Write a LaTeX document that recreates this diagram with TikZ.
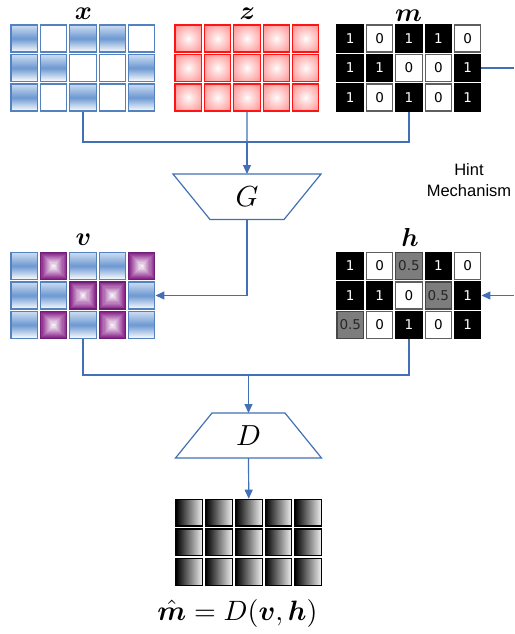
\documentclass[tikz,border=0pt]{standalone}
\usepackage{amsmath}
\usepackage{fontspec}
\usetikzlibrary{arrows.meta,calc}
\newfontfamily\dejavu{DejaVu Sans}
\newfontfamily\libsans{Liberation Sans}
\definecolor{xblue}{RGB}{84,130,192}
\definecolor{btop}{RGB}{205,221,241}
\definecolor{bmid}{RGB}{108,152,210}
\definecolor{zred}{RGB}{255,20,20}
\definecolor{zfill}{RGB}{255,95,95}
\definecolor{vpurple}{RGB}{140,38,140}
\definecolor{vpurpleb}{RGB}{110,30,118}
\definecolor{connc}{RGB}{66,112,182}
\definecolor{zerob}{RGB}{95,95,95}
\definecolor{halff}{RGB}{125,125,125}
\definecolor{halfb}{RGB}{70,70,70}
\pgfdeclareradialshading{zshade}{\pgfpoint{0bp}{0bp}}{color(0bp)=(white); color(6bp)=(white!85!zfill); color(50bp)=(zfill); color(72bp)=(zfill)}
\begin{document}
\begin{tikzpicture}[x=1pt,y=-1pt,
  cell/.style={minimum width=26.5pt, minimum height=27pt, inner sep=0pt, line width=1.1pt, font=\dejavu\fontsize{13.5}{15}\selectfont},
  xc1/.style={cell, draw=xblue, top color=btop, bottom color=white, middle color=bmid},
  xc0/.style={cell, draw=xblue, fill=white},
  zc/.style={cell, draw=zred, shading=zshade},
  vp/.style={cell, draw=vpurpleb, path picture={
      \foreach \i in {0,...,12}{
        \pgfmathtruncatemacro\pc{\i*100/12}
        \fill[white!\pc!vpurple] ($(path picture bounding box.south west)+(\i*1.1pt,\i*1.1pt)$) rectangle ($(path picture bounding box.north east)-(\i*1.1pt,\i*1.1pt)$);
      }}},
  k/.style={cell, fill=black, draw=black, text=white},
  w/.style={cell, fill=white, draw=zerob, text=black},
  g/.style={cell, fill=halff, draw=halfb, text=black!85},
  oc/.style={cell, minimum width=26.7pt, minimum height=26.7pt, draw=black, left color=black, right color=gray!10},
  title/.style={scale=2.6, anchor=base, inner sep=0pt},
  big/.style={scale=2.9, inner sep=0pt},
  conn/.style={draw=connc, line width=1.2pt},
  arr/.style={conn, -{Triangle[length=9pt,width=8pt]}},
  trap/.style={draw=connc, line width=1.2pt, line join=miter}
]
\useasboundingbox (0,0) rectangle (514,634);

% titles
\node[title] (tx) at (83.5,19.5) {$\boldsymbol{x}$};
\node[title] (tz) at (247.5,19.5) {$\boldsymbol{z}$};
\node[title] (tm) at (408.5,22) {$\boldsymbol{m}$};
\node[title] (tv) at (83.5,245) {$\boldsymbol{v}$};
\node[title] (th) at (410,246.5) {$\boldsymbol{h}$};

% x grid
\foreach \r/\list in {1/{xc1,xc0,xc1,xc1,xc0},2/{xc1,xc1,xc0,xc0,xc1},3/{xc1,xc0,xc1,xc0,xc1}}{
  \foreach \s [count=\c] in \list {
    \node[\s] (x-\r-\c) at ({24.25+29.35*(\c-1)},{38.5+29.5*(\r-1)}) {};
  }}
% z grid
\foreach \r in {1,2,3}{
  \foreach \c in {1,...,5}{
    \node[zc] (z-\r-\c) at ({188.25+29.35*(\c-1)},{38.5+29.5*(\r-1)}) {};
  }}
% m grid
\foreach \r/\list in {1/{k/1,w/0,k/1,k/1,w/0},2/{k/1,k/1,w/0,w/0,k/1},3/{k/1,w/0,k/1,w/0,k/1}}{
  \foreach \s/\t [count=\c] in \list {
    \node[\s] (m-\r-\c) at ({350.25+29.35*(\c-1)},{38.5+29.5*(\r-1)}) {\t};
  }}
% v grid
\foreach \r/\list in {1/{xc1,vp,xc1,xc1,vp},2/{xc1,xc1,vp,vp,xc1},3/{xc1,vp,xc1,vp,xc1}}{
  \foreach \s [count=\c] in \list {
    \node[\s] (v-\r-\c) at ({24.25+29.35*(\c-1)},{266+29.5*(\r-1)}) {};
  }}
% h grid
\foreach \r/\list in {1/{k/1,w/0,g/0.5,k/1,w/0},2/{k/1,k/1,w/0,g/0.5,k/1},3/{g/0.5,w/0,k/1,w/0,k/1}}{
  \foreach \s/\t [count=\c] in \list {
    \node[\s] (h-\r-\c) at ({350.25+29.35*(\c-1)},{266+29.5*(\r-1)}) {\t};
  }}
% output grid
\foreach \r in {1,2,3}{
  \foreach \c in {1,...,5}{
    \node[oc] (o-\r-\c) at ({189.35+29.7*(\c-1)},{512.6+29.7*(\r-1)}) {};
  }}

% G
\node[big] (G) at (247,197) {$G$};
\coordinate (Gtop) at (247,174);
\coordinate (Gbot) at (247,219.5);
\draw[trap] (173,174) -- (321,174) -- (284,219.5) -- (210,219.5) -- cycle;

% D
\node[big] (D) at (248.5,435.5) {$D$};
\coordinate (Dtop) at (248.5,413);
\coordinate (Dbot) at (248.5,458);
\draw[trap] (212,413) -- (285,413) -- (321.5,458) -- (175.5,458) -- cycle;

% hint
\node[font=\libsans\fontsize{16.5}{21}\selectfont, align=center] (hint) at (469,180) {Hint\\Mechanism};

% connectors
\coordinate (j1) at (247,142);
\draw[conn] (x-3-3.south) |- (j1) -| (m-3-3.south);
\draw[conn] (z-3-3.south) -- (j1);
\draw[arr] (j1) -- (Gtop);
\draw[arr] (Gbot) |- (v-2-5.east);
\coordinate (mout) at (514,68);
\draw[conn] (m-2-5.east) -- (mout);
\coordinate (hin) at (514,295.5);
\draw[arr] (hin) -- (h-2-5.east);
\coordinate (j2) at (248.5,375);
\draw[conn] (v-3-3.south) |- (j2) -| (h-3-3.south);
\draw[arr] (j2) -- (Dtop);
\draw[arr] (Dbot) -- (o-1-3.north);

% formula
\node[scale=2.8, anchor=base, inner sep=0pt] (mhat) at (237.5,620) {$\hat{\boldsymbol{m}}=D(\boldsymbol{v},\boldsymbol{h})$};
\end{tikzpicture}
\end{document}
